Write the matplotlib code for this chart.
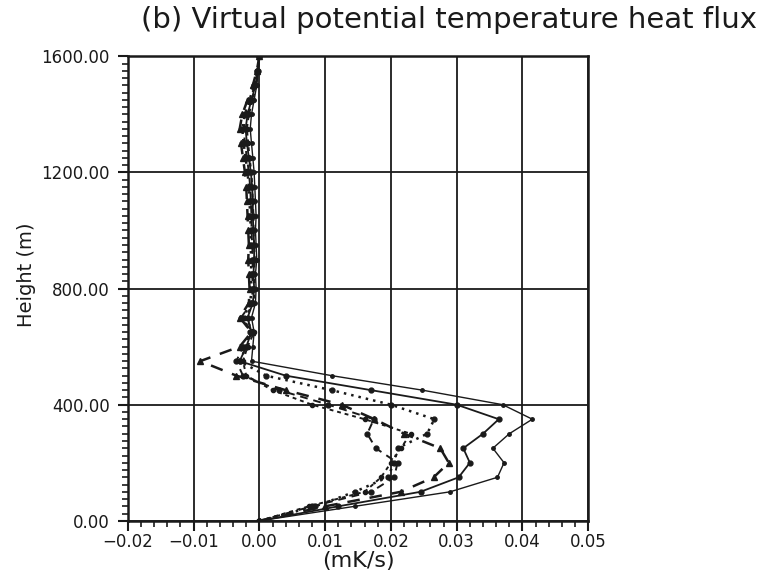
"""Virtual potential temperature heat flux profiles, panel (b)."""

import matplotlib
matplotlib.use("Agg")
import matplotlib.pyplot as plt
from matplotlib.ticker import MultipleLocator, FuncFormatter

# model levels (m)
heights = [0, 50, 100, 150, 200, 250, 300, 350, 400, 450, 500, 550,
           600, 650, 700, 750, 800, 850, 900, 950, 1000, 1050, 1100,
           1150, 1200, 1250, 1300, 1350, 1400, 1450, 1500, 1550, 1600]

# flux profiles (mK/s)
flux_solid_a = [0, 0.0145, 0.0290, 0.0362, 0.0372, 0.0355, 0.0380, 0.0415,
                0.0370, 0.0248, 0.0110, -0.0012,
                -0.0010, -0.0008, -0.0012, -0.0006, -0.0005, -0.0006, -0.0004,
                -0.0005, -0.0006, -0.0005, -0.0006, -0.0007, -0.0008, -0.0010,
                -0.0012, -0.0014, -0.0012, -0.0008, -0.0004, -0.0002, 0.0]
flux_solid_b = [0, 0.0120, 0.0245, 0.0303, 0.0320, 0.0310, 0.0340, 0.0364,
                0.0300, 0.0170, 0.0040, -0.0030,
                -0.0020, -0.0012, -0.0018, -0.0010, -0.0008, -0.0009, -0.0008,
                -0.0008, -0.0009, -0.0010, -0.0010, -0.0011, -0.0013, -0.0016,
                -0.0019, -0.0021, -0.0018, -0.0012, -0.0006, -0.0002, 0.0]
flux_dotted = [0, 0.0085, 0.0145, 0.0195, 0.0205, 0.0210, 0.0255, 0.0266,
               0.0200, 0.0110, 0.0010, -0.0030,
               -0.0020, -0.0015, -0.0025, -0.0014, -0.0012, -0.0013, -0.0012,
               -0.0014, -0.0013, -0.0014, -0.0015, -0.0016, -0.0018, -0.0021,
               -0.0024, -0.0026, -0.0022, -0.0015, -0.0008, -0.0003, 0.0]
flux_dash_heavy = [0, 0.0100, 0.0215, 0.0265, 0.0288, 0.0275, 0.0220, 0.0175,
                   0.0125, 0.0040, -0.0035, -0.0090,
                   -0.0030, -0.0012, -0.0030, -0.0016, -0.0015, -0.0016, -0.0017,
                   -0.0016, -0.0017, -0.0018, -0.0019, -0.0020, -0.0022, -0.0025,
                   -0.0028, -0.0030, -0.0026, -0.0018, -0.0010, -0.0004, 0.0]
flux_dash_dots = [0, 0.0080, 0.0170, 0.0205, 0.0210, 0.0177, 0.0164, 0.0174,
                  0.0105, 0.0030, -0.0025, -0.0035,
                  -0.0025, -0.0010, -0.0028, -0.0012, -0.0010, -0.0011, -0.0010,
                  -0.0011, -0.0012, -0.0012, -0.0013, -0.0014, -0.0016, -0.0019,
                  -0.0022, -0.0024, -0.0020, -0.0014, -0.0007, -0.0003, 0.0]
flux_dash_short = [0, 0.0075, 0.0160, 0.0185, 0.0200, 0.0215, 0.0230, 0.0160,
                   0.0080, 0.0020, -0.0020, -0.0025,
                   -0.0018, -0.0008, -0.0022, -0.0009, -0.0007, -0.0008, -0.0007,
                   -0.0008, -0.0009, -0.0009, -0.0010, -0.0011, -0.0012, -0.0015,
                   -0.0017, -0.0019, -0.0016, -0.0010, -0.0005, -0.0002, 0.0]

INK = "#1a1a1a"


def two_dec(v, _pos):
    s = f"{v:.2f}"
    if s == "-0.00":
        s = "0.00"
    return s.replace("-", "\u2212")


fig = plt.figure(figsize=(7.75, 5.8), dpi=100)
ax = fig.add_axes([0.165, 0.102, 0.594, 0.801])

ax.plot(flux_solid_a, heights, color=INK, lw=1.0, ls="-",
        marker="o", ms=2.5)
ax.plot(flux_solid_b, heights, color=INK, lw=1.3, ls="-",
        marker="o", ms=3.5)
ax.plot(flux_dotted, heights, color=INK, lw=1.8, ls=(0, (1, 2)),
        marker="o", ms=3.5)
ax.plot(flux_dash_heavy, heights, color=INK, lw=1.8, ls=(0, (5, 4)),
        marker="^", ms=4.5)
ax.plot(flux_dash_dots, heights, color=INK, lw=1.4, ls=(0, (4, 3)),
        marker="o", ms=3.5)
ax.plot(flux_dash_short, heights, color=INK, lw=1.4, ls=(0, (2, 2)),
        marker="o", ms=3)

ax.set_xlim(-0.02, 0.05)
ax.set_ylim(0, 1600)
ax.xaxis.set_major_locator(MultipleLocator(0.01))
ax.xaxis.set_minor_locator(MultipleLocator(0.002))
ax.yaxis.set_major_locator(MultipleLocator(400))
ax.yaxis.set_minor_locator(MultipleLocator(25))
ax.xaxis.set_major_formatter(FuncFormatter(two_dec))
ax.yaxis.set_major_formatter(FuncFormatter(two_dec))

ax.grid(True, which="major", color=INK, lw=1.3)
ax.set_axisbelow(True)
for sp in ax.spines.values():
    sp.set_linewidth(1.8)
    sp.set_color(INK)
ax.tick_params(which="major", direction="out", length=7, width=1.5,
               labelsize=12, colors=INK)
ax.tick_params(axis="y", which="major", pad=6)
ax.tick_params(axis="x", which="major", pad=2)
ax.tick_params(which="minor", direction="out", length=4, width=1.2,
               colors=INK)

ax.set_xlabel("(mK/s)", fontsize=16, color=INK, labelpad=0)
ax.set_ylabel("Height (m)", fontsize=14, color=INK)
ax.yaxis.set_label_coords(-0.2, 0.53)
fig.text(0.58, 0.965, "(b) Virtual potential temperature heat flux",
         ha="center", va="center", fontsize=21, color=INK)

fig.savefig("out.png", dpi=100, facecolor="white")
